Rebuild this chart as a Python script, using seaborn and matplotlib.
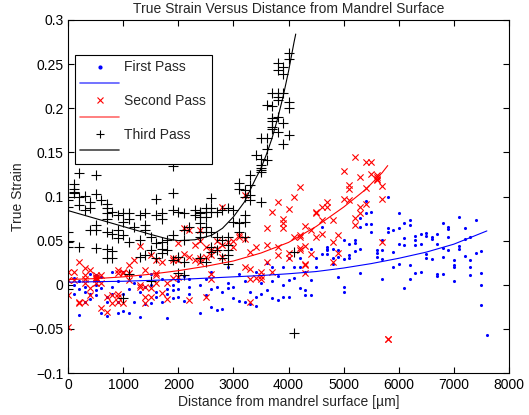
import matplotlib

matplotlib.use("Agg")
import matplotlib.pyplot as plt
import pandas as pd
import seaborn as sns
from matplotlib.lines import Line2D
from matplotlib.ticker import FuncFormatter

# (distance um, true strain)
FIRST_PASS = [
    (100, 0.008), (100, 0.0), (100, -0.010), (200, -0.034), (200, -0.005), (200, 0.004),
    (300, -0.003), (300, -0.008), (300, -0.020), (400, -0.010), (400, 0.012), (400, -0.016),
    (500, 0.011), (500, 0.005), (500, 0.0), (500, -0.006), (500, -0.012),
    (600, -0.004), (600, -0.032), (600, 0.009), (700, -0.014), (700, -0.019), (700, -0.035),
    (800, -0.002), (800, 0.015), (800, -0.010), (900, -0.032), (900, 0.004), (900, -0.020),
    (1000, -0.030), (1000, -0.010), (1000, 0.014), (1100, -0.032), (1100, -0.005),
    (1200, -0.019), (1200, 0.002), (1300, -0.036), (1300, -0.008), (1300, 0.010),
    (1400, -0.002), (1400, -0.022), (1500, -0.021), (1500, 0.0), (1500, 0.012),
    (1600, -0.008), (1600, -0.014), (1700, 0.006), (1700, -0.020),
    (1800, -0.038), (1800, -0.005), (1800, -0.010), (1900, 0.0), (1900, -0.006), (1900, -0.015),
    (2000, 0.004), (2000, -0.014), (2000, -0.005), (2100, -0.018), (2100, 0.010),
    (2200, -0.002), (2200, -0.010), (2200, 0.006), (2400, -0.032), (2400, 0.0),
    (2500, -0.012), (2500, 0.007), (2600, -0.025), (2600, -0.005), (2600, 0.015),
    (2700, -0.029), (2700, -0.003), (2800, -0.027), (2800, -0.008),
    (2900, 0.002), (2900, -0.004), (2900, 0.020), (3000, -0.002), (3000, -0.015),
    (3100, -0.018), (3100, 0.012), (3200, -0.020), (3200, 0.004), (3300, -0.008), (3300, -0.022),
    (3400, -0.014), (3400, 0.015), (3400, -0.024), (3500, 0.002), (3500, -0.010),
    (3600, -0.006), (3600, 0.025), (3700, 0.004), (3700, -0.015), (3700, 0.020),
    (3800, -0.017), (3800, 0.010), (3900, 0.0), (3900, -0.014), (3900, 0.020),
    (4000, -0.014), (4000, 0.030), (4000, 0.005), (4100, 0.008), (4100, 0.020),
    (4200, 0.030), (4200, 0.020), (4200, -0.004), (4300, -0.006), (4300, -0.011), (4300, 0.015),
    (4400, 0.041), (4400, -0.011), (4400, 0.005), (4500, 0.030), (4500, 0.020),
    (4600, 0.035), (4600, 0.066), (4700, 0.043), (4700, 0.039), (4700, 0.040), (4700, 0.035),
    (4800, 0.024), (4800, 0.041), (4800, 0.030), (4900, 0.039), (4900, 0.032), (4900, 0.009),
    (5000, 0.051), (5000, 0.029), (5000, -0.003), (5000, -0.008),
    (5100, 0.046), (5100, 0.034), (5100, 0.030), (5200, 0.051), (5200, 0.047), (5200, 0.038),
    (5300, 0.076), (5300, 0.066), (5300, 0.041), (5300, 0.013),
    (5400, 0.095), (5400, 0.081), (5400, 0.069), (5500, 0.083), (5500, 0.069), (5500, 0.060),
    (5600, 0.039), (5600, 0.036), (5600, 0.031),
    (5700, 0.039), (5700, 0.029), (5700, 0.051), (5700, 0.007),
    (5800, 0.099), (5800, 0.064), (5800, 0.060), (5900, 0.062), (5900, 0.037), (5900, 0.020),
    (6000, 0.081), (6000, 0.064), (6000, 0.046), (6000, 0.024),
    (6100, 0.070), (6100, 0.053), (6100, 0.045), (6100, -0.004),
    (6200, 0.073), (6200, 0.068), (6200, 0.022), (6200, 0.007),
    (6300, 0.055), (6300, 0.051), (6300, 0.045), (6300, 0.013),
    (6400, 0.058), (6400, 0.046), (6400, 0.015),
    (6500, 0.059), (6500, 0.055), (6500, 0.035), (6500, 0.030),
    (6600, 0.054), (6600, 0.052), (6600, 0.029),
    (6700, 0.057), (6700, 0.046), (6700, 0.012), (6700, 0.010),
    (6800, 0.070), (6800, 0.042), (6800, 0.032), (6800, 0.012),
    (6900, 0.066), (6900, 0.063), (6900, 0.054), (6900, 0.039),
    (7000, 0.028), (7000, 0.022), (7000, 0.020), (7000, 0.004),
    (7100, 0.077), (7100, 0.044), (7100, 0.040), (7200, 0.064), (7200, 0.052), (7200, 0.033),
    (7300, 0.054), (7300, 0.028), (7300, 0.020), (7300, 0.011), (7400, 0.073), (7400, 0.036),
    (7500, 0.038), (7500, 0.013), (7500, 0.0), (7500, -0.023), (7600, -0.057),
]

SECOND_PASS = [
    (0, -0.048), (0, -0.012), (0, 0.005), (0, 0.015), (100, 0.005), (100, 0.014),
    (200, -0.019), (200, -0.021), (200, 0.026),
    (300, -0.019), (300, 0.002), (300, 0.007), (300, 0.019), (300, 0.011),
    (400, -0.012), (400, -0.004), (400, 0.017),
    (500, 0.002), (500, 0.009), (500, 0.006), (500, 0.011), (500, 0.008),
    (600, 0.002), (600, -0.026), (600, 0.011), (700, -0.031), (700, -0.014),
    (800, -0.012), (800, -0.021),
    (900, -0.010), (900, -0.014), (900, -0.019), (900, 0.013), (900, 0.017),
    (1000, -0.021), (1000, 0.013), (1000, 0.015), (1100, 0.005), (1100, 0.022), (1100, 0.013),
    (1200, 0.028), (1300, -0.002), (1300, 0.044), (1300, 0.0),
    (1400, -0.014), (1400, -0.021), (1400, 0.017), (1400, -0.002),
    (1500, -0.004), (1500, -0.014), (1500, 0.034),
    (1600, 0.002), (1600, 0.013), (1600, 0.028), (1600, 0.011),
    (1700, -0.009), (1700, 0.026), (1800, -0.016), (1800, 0.002),
    (1900, 0.028), (1900, 0.030), (1900, 0.008), (2000, 0.028), (2000, 0.009), (2000, 0.047),
    (2100, 0.064), (2100, 0.035), (2200, -0.017), (2200, 0.062), (2200, 0.032),
    (2300, 0.028), (2300, 0.045), (2400, 0.062), (2400, 0.026), (2400, 0.030), (2400, 0.050),
    (2500, -0.014), (2500, 0.032), (2500, 0.043),
    (2600, 0.039), (2600, 0.034), (2600, 0.012), (2600, 0.007),
    (2700, 0.050), (2700, 0.041), (2800, 0.088), (2800, 0.032), (2800, 0.045),
    (2900, 0.049), (3000, 0.043), (3000, 0.050), (3100, 0.054), (3100, 0.056),
    (3200, 0.102), (3200, 0.052), (3200, 0.020),
    (3300, 0.037), (3300, 0.018), (3300, 0.007), (3300, -0.019),
    (3400, 0.043), (3400, 0.008), (3500, 0.007), (3500, 0.010), (3500, 0.014),
    (3600, 0.064), (3600, 0.045), (3600, 0.026), (3700, 0.083), (3700, 0.015),
    (3800, 0.094), (3800, 0.043), (3800, 0.034), (3900, 0.075), (3900, 0.070), (3900, 0.064),
    (4000, 0.086), (4000, 0.036), (4000, 0.030), (4100, 0.099), (4100, 0.054),
    (4200, 0.111), (4200, 0.054), (4200, 0.042), (4200, 0.039), (4200, 0.056),
    (4300, 0.067), (4300, 0.044), (4300, 0.024), (4300, 0.022), (4300, 0.013),
    (4400, 0.062), (4400, 0.035), (4500, 0.082), (4500, 0.081), (4500, 0.054),
    (4600, 0.088), (4600, 0.073), (4600, 0.058), (4700, 0.094), (4700, 0.088),
    (4800, 0.073), (4800, 0.049), (4800, 0.026), (4900, 0.056), (4900, 0.036),
    (5000, 0.129), (5000, 0.097), (5100, 0.113), (5100, 0.108), (5100, 0.096),
    (5200, 0.145), (5200, 0.076), (5200, 0.068), (5300, 0.122), (5300, 0.088), (5300, 0.081),
    (5400, 0.139), (5400, 0.110), (5400, 0.092), (5500, 0.139), (5500, 0.126),
    (5600, 0.124), (5600, 0.122), (5600, 0.120), (5600, 0.119),
    (5700, 0.112), (5700, 0.097), (5700, 0.049), (5800, -0.061), (5800, -0.0615),
]

THIRD_PASS = [
    (0, 0.096), (0, 0.088), (0, 0.060), (0, 0.049), (0, 0.043), (0, -0.005),
    (100, 0.114), (100, 0.109), (100, 0.104), (100, 0.105),
    (200, 0.127), (200, 0.100), (200, 0.090), (200, 0.043), (300, 0.101), (300, 0.085),
    (400, 0.094), (400, 0.087), (400, 0.062),
    (500, 0.124), (500, 0.103), (500, 0.068), (500, 0.062), (500, 0.042), (600, 0.096),
    (700, 0.092), (700, 0.087), (700, 0.081), (700, 0.075), (700, 0.060), (700, 0.041), (700, 0.030),
    (800, 0.083), (800, 0.058), (800, 0.038), (800, 0.030), (900, 0.079), (900, 0.062), (900, 0.053),
    (1000, 0.081), (1000, 0.071), (1000, 0.056), (1000, -0.015),
    (1100, 0.081), (1100, 0.074), (1100, 0.049), (1100, 0.012), (1200, 0.066),
    (1300, 0.079), (1300, 0.051), (1300, 0.032),
    (1400, 0.081), (1400, 0.068), (1400, 0.062), (1400, 0.034),
    (1500, 0.054), (1500, 0.039), (1500, 0.004),
    (1600, 0.097), (1600, 0.079), (1600, 0.047), (1600, 0.030),
    (1700, 0.081), (1700, 0.075), (1700, 0.049), (1700, 0.041), (1700, 0.036),
    (1800, 0.051), (1800, 0.039),
    (1900, 0.134), (1900, 0.104), (1900, 0.085), (1900, 0.056), (1900, 0.028),
    (2000, 0.083), (2000, 0.032), (2000, 0.013),
    (2100, 0.081), (2100, 0.062), (2100, 0.051), (2100, 0.026), (2100, 0.011), (2200, 0.066),
    (2300, 0.085), (2300, 0.079),
    (2400, 0.083), (2400, 0.081), (2400, 0.077), (2400, 0.070), (2400, 0.060), (2400, 0.054), (2400, 0.030),
    (2500, 0.087), (2500, 0.083), (2500, 0.077), (2500, 0.066), (2500, 0.060), (2500, 0.026),
    (2600, 0.098), (2600, 0.087), (2600, 0.083), (2600, 0.060), (2600, 0.043), (2600, 0.037),
    (2700, 0.083), (2700, 0.054), (2700, 0.039), (2800, 0.085), (2800, 0.051), (2800, 0.030),
    (2900, 0.087), (2900, 0.054), (2900, 0.045), (2900, 0.039), (2900, 0.034), (2900, 0.024),
    (3000, 0.085), (3000, 0.071),
    (3100, 0.115), (3100, 0.109), (3100, 0.070), (3100, 0.060),
    (3200, 0.107), (3200, 0.100), (3200, 0.079), (3200, 0.071), (3200, 0.054),
    (3300, 0.124), (3300, 0.113), (3300, 0.102), (3300, 0.096), (3400, 0.147),
    (3500, 0.130), (3500, 0.094), (3500, 0.166), (3500, 0.143), (3500, 0.136), (3500, 0.132), (3500, 0.128),
    (3600, 0.204), (3600, 0.166), (3600, 0.154), (3600, 0.141),
    (3700, 0.217), (3700, 0.203), (3700, 0.189), (3700, 0.185), (3700, 0.179), (3700, 0.177),
    (3800, 0.251), (3800, 0.243), (3800, 0.217), (3800, 0.213), (3800, 0.209), (3800, 0.190), (3800, 0.173),
    (3900, 0.247), (3900, 0.239), (3900, 0.217), (3900, 0.183), (3900, 0.159),
    (4000, 0.262), (4000, 0.256), (4000, 0.207), (4000, 0.200), (4000, 0.170),
    (4100, 0.037), (4100, -0.055),
]

# fitted curves
FIT1_X = [0, 500, 1000, 1500, 2000, 2500, 3000, 3500, 4000, 4500, 5000, 5500, 6000, 6500, 7000, 7600]
FIT1_Y = [0.003, 0.0035, 0.004, 0.005, 0.006, 0.0075, 0.009, 0.0105, 0.0125, 0.015, 0.019, 0.024,
          0.030, 0.037, 0.046, 0.061]
FIT2_X = [0, 500, 1000, 1500, 2000, 2500, 3000, 3500, 4000, 4500, 5000, 5400, 5700, 5800]
FIT2_Y = [0.006, 0.007, 0.009, 0.012, 0.016, 0.021, 0.027, 0.036, 0.048, 0.066, 0.088, 0.108, 0.127, 0.135]
FIT3_X = [0, 500, 1000, 1500, 1800, 2000, 2300, 2600, 2800, 3000, 3200, 3400, 3500, 3600, 3700,
          3800, 3900, 4000, 4100, 4130]
FIT3_Y = [0.084, 0.075, 0.066, 0.057, 0.052, 0.050, 0.051, 0.056, 0.064, 0.077, 0.094, 0.120, 0.132,
          0.148, 0.166, 0.188, 0.213, 0.242, 0.275, 0.284]

X_TICKS = [0, 1000, 2000, 3000, 4000, 5000, 6000, 7000, 8000]
Y_TICKS = [-0.1, -0.05, 0, 0.05, 0.1, 0.15, 0.2, 0.25, 0.3]
LABELS = ["First Pass", "Second Pass", "Third Pass"]

sns.set_style("ticks")
plt.rcParams["font.family"] = ["Liberation Sans", "DejaVu Sans"]
plt.rcParams["font.size"] = 10

fig = plt.figure(figsize=(5.29, 4.15), dpi=100)
ax = fig.add_axes([0.129, 0.101, 0.833, 0.851])

p1 = pd.DataFrame(FIRST_PASS, columns=["x", "y"])
p2 = pd.DataFrame(SECOND_PASS, columns=["x", "y"])
p3 = pd.DataFrame(THIRD_PASS, columns=["x", "y"])

sns.scatterplot(data=p1, x="x", y="y", marker="o", s=5, color="#0000ff", linewidth=0, ax=ax)
sns.lineplot(x=FIT1_X, y=FIT1_Y, color="#0000ff", linewidth=0.8, estimator=None, ax=ax)
sns.scatterplot(data=p2, x="x", y="y", marker="x", s=20, color="#ff0000", linewidth=0.8, ax=ax)
sns.lineplot(x=FIT2_X, y=FIT2_Y, color="#ff0000", linewidth=0.8, estimator=None, ax=ax)
sns.scatterplot(data=p3, x="x", y="y", marker="+", s=45, color="black", linewidth=0.8, ax=ax)
sns.lineplot(x=FIT3_X, y=FIT3_Y, color="black", linewidth=0.8, estimator=None, ax=ax)

ax.set_xlim(0, 8000)
ax.set_ylim(-0.1, 0.3)
ax.set_xticks(X_TICKS)
ax.set_yticks(Y_TICKS)
ax.yaxis.set_major_formatter(FuncFormatter(lambda v, _: f"{v:g}".replace("-", "\u2212")))
ax.tick_params(direction="in", top=True, right=True, length=4, width=0.8, labelsize=10, colors="black")
for spine in ax.spines.values():
    spine.set_visible(True)
    spine.set_linewidth(0.8)
    spine.set_color("black")

ax.set_title("True Strain Versus Distance from Mandrel Surface", fontsize=10, pad=5)
ax.set_xlabel("Distance from mandrel surface [\u00b5m]", fontsize=10, labelpad=2)
ax.set_ylabel("True Strain", fontsize=10, labelpad=2)

handles = [
    Line2D([], [], linestyle="none", marker="o", markersize=2, color="#0000ff"),
    Line2D([], [], color="#5a5aff", linewidth=1.2),
    Line2D([], [], linestyle="none", marker="x", markersize=4, markeredgewidth=0.8, color="#ff0000"),
    Line2D([], [], color="#ff6a6a", linewidth=1.2),
    Line2D([], [], linestyle="none", marker="+", markersize=6, markeredgewidth=0.8, color="black"),
    Line2D([], [], color="#444444", linewidth=1.2),
]
leg = ax.legend(
    handles,
    [LABELS[0], " ", LABELS[1], " ", LABELS[2], " "],
    loc="upper left",
    bbox_to_anchor=(0.015, 0.901),
    frameon=True,
    fancybox=False,
    edgecolor="black",
    framealpha=1,
    handlelength=2.8,
    handletextpad=0.35,
    labelspacing=0.2,
    borderpad=0.4,
    borderaxespad=0,
    numpoints=1,
    fontsize=10,
)
leg.get_frame().set_linewidth(0.8)

fig.savefig("out.png", dpi=100)
